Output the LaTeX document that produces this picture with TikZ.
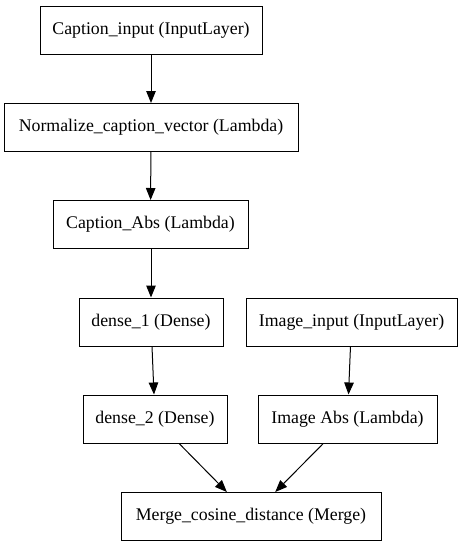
\documentclass[tikz,border=0pt]{standalone}
\usepackage{fontspec}
\setmainfont{Liberation Serif}
\usetikzlibrary{arrows.meta}
\begin{document}
\begin{tikzpicture}[x=1pt,y=-1pt,
  layer/.style={draw,line width=1pt,rectangle,minimum height=48pt,inner sep=0pt,font=\fontsize{17.8}{20}\selectfont},
  conn/.style={line width=1pt,-{Triangle[length=12pt,width=9.5pt]}}]
\useasboundingbox (0,0) rectangle (462,547);
\node[layer,minimum width=222pt] (ci) at (151,30) {Caption\_input (InputLayer)};
\node[layer,minimum width=294pt] (nc) at (151,127.5) {Normalize\_caption\_vector (Lambda)};
\node[layer,minimum width=195pt] (ca) at (150.5,224.5) {Caption\_Abs (Lambda)};
\node[layer,minimum width=144pt] (d1) at (151,322) {dense\_1 (Dense)};
\node[layer,minimum width=211pt] (ii) at (351.5,322) {Image\_input (InputLayer)};
\node[layer,minimum width=144pt] (d2) at (155,419) {dense\_2 (Dense)};
\node[layer,minimum width=179pt] (ia) at (347.5,419) {Image Abs (Lambda)};
\node[layer,minimum width=260pt] (mc) at (251,516.5) {Merge\_cosine\_distance (Merge)};
\draw[conn] (ci) -- (nc);
\draw[conn] (nc) -- (ca);
\draw[conn] (ca.south -| 151,0) -- (d1.north -| 151,0);
\draw[conn] (d1) -- (d2);
\draw[conn] (ii) -- (ia);
\draw[conn] (d2) -- (mc);
\draw[conn] (ia) -- (mc);
\end{tikzpicture}
\end{document}
